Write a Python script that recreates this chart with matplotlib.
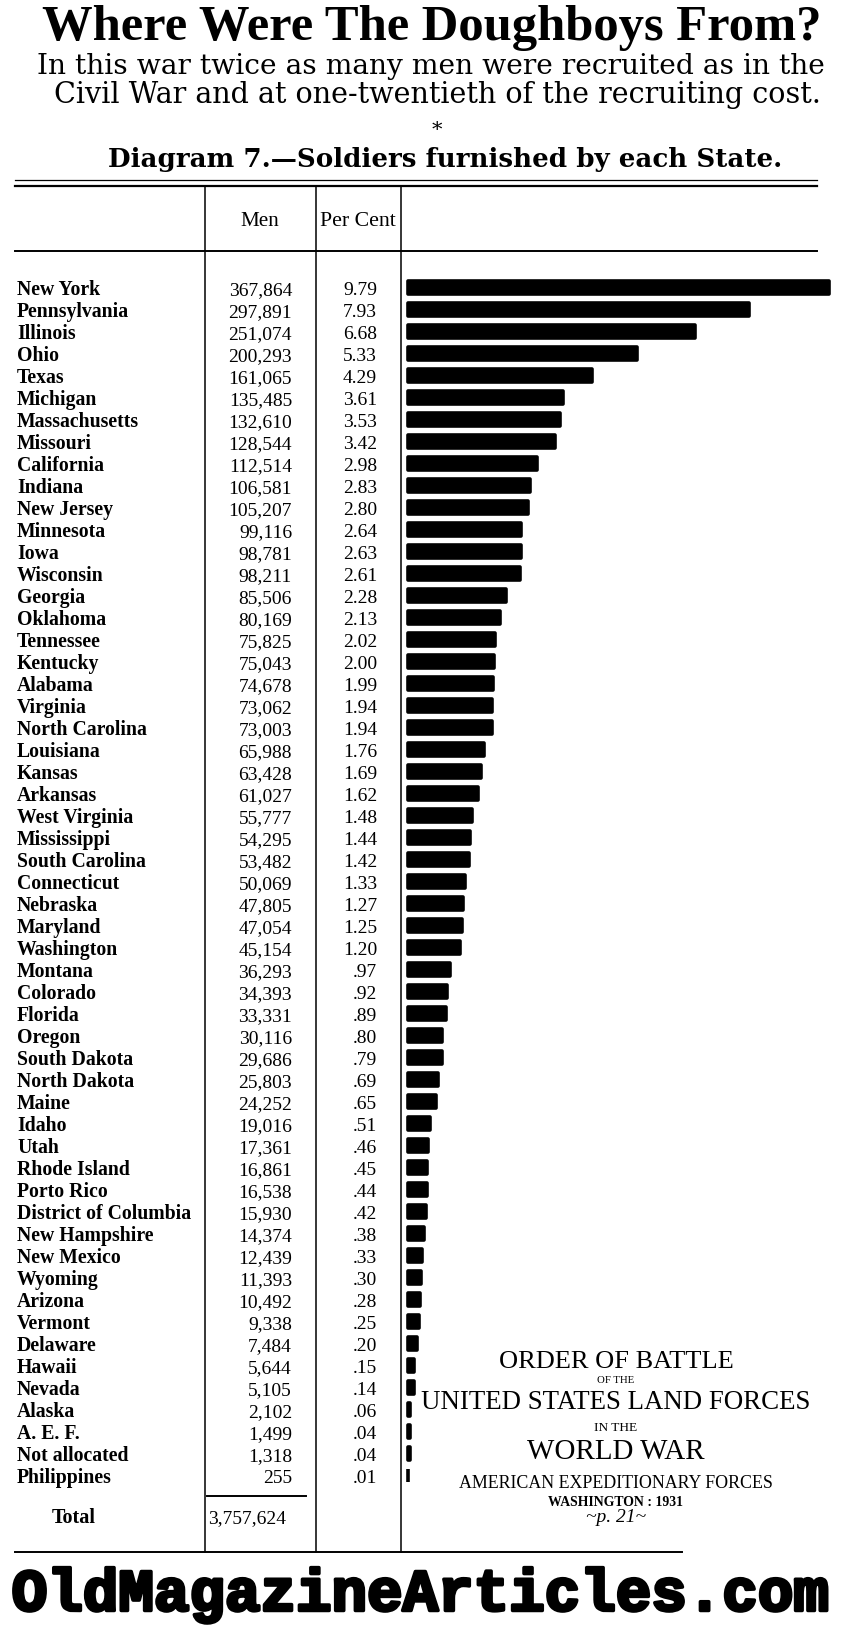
import matplotlib
matplotlib.use("Agg")
import matplotlib.pyplot as plt
import matplotlib.patheffects as pe
from matplotlib.transforms import blended_transform_factory

states = ["New York", "Pennsylvania", "Illinois", "Ohio", "Texas", "Michigan",
          "Massachusetts", "Missouri", "California", "Indiana", "New Jersey",
          "Minnesota", "Iowa", "Wisconsin", "Georgia", "Oklahoma", "Tennessee",
          "Kentucky", "Alabama", "Virginia", "North Carolina", "Louisiana",
          "Kansas", "Arkansas", "West Virginia", "Mississippi", "South Carolina",
          "Connecticut", "Nebraska", "Maryland", "Washington", "Montana",
          "Colorado", "Florida", "Oregon", "South Dakota", "North Dakota",
          "Maine", "Idaho", "Utah", "Rhode Island", "Porto Rico",
          "District of Columbia", "New Hampshire", "New Mexico", "Wyoming",
          "Arizona", "Vermont", "Delaware", "Hawaii", "Nevada", "Alaska",
          "A. E. F.", "Not allocated", "Philippines"]
men = [367864, 297891, 251074, 200293, 161065, 135485, 132610, 128544,
       112514, 106581, 105207, 99116, 98781, 98211, 85506, 80169, 75825,
       75043, 74678, 73062, 73003, 65988, 63428, 61027, 55777, 54295, 53482,
       50069, 47805, 47054, 45154, 36293, 34393, 33331, 30116, 29686, 25803,
       24252, 19016, 17361, 16861, 16538, 15930, 14374, 12439, 11393, 10492,
       9338, 7484, 5644, 5105, 2102, 1499, 1318, 255]
per_cent = ["9.79", "7.93", "6.68", "5.33", "4.29", "3.61", "3.53", "3.42",
            "2.98", "2.83", "2.80", "2.64", "2.63", "2.61", "2.28", "2.13",
            "2.02", "2.00", "1.99", "1.94", "1.94", "1.76", "1.69", "1.62",
            "1.48", "1.44", "1.42", "1.33", "1.27", "1.25", "1.20", ".97",
            ".92", ".89", ".80", ".79", ".69", ".65", ".51", ".46", ".45",
            ".44", ".42", ".38", ".33", ".30", ".28", ".25", ".20", ".15",
            ".14", ".06", ".04", ".04", ".01"]
total_men = 3757624

W, H = 852, 1633
fig = plt.figure(figsize=(W / 100, H / 100), dpi=100)
fig.patch.set_facecolor("white")

# overlay axes in pixel units for text and rules
ov = fig.add_axes([0, 0, 1, 1])
ov.set_xlim(0, W)
ov.set_ylim(H, 0)
ov.axis("off")

renderer = fig.canvas.get_renderer()


def fit(t, width):
    # scale the font so the text spans the wanted pixel width
    bb = t.get_window_extent(renderer)
    t.set_fontsize(t.get_fontsize() * width / bb.width)
    return t


serif = "DejaVu Serif"
times = "Liberation Serif"

# header texts
fit(ov.text(432, 28, "Where Were The Doughboys From?", ha="center", va="center",
            family=times, weight="bold", size=36), 780)
fit(ov.text(431, 66, "In this war twice as many men were recruited as in the",
            ha="center", va="center", family=serif, size=18), 790)
fit(ov.text(437, 95, "Civil War and at one-twentieth of the recruiting cost.",
            ha="center", va="center", family=serif, size=18), 770)
ov.text(437, 136, "*", ha="center", va="baseline", family=serif, size=15)
fit(ov.text(445, 160, "Diagram 7.\u2014Soldiers furnished by each State.",
            ha="center", va="center", family=serif, weight="bold", size=16), 673)

# table rules
x_left, x_right = 15, 817
y_bottom = 1553
ov.plot([x_left, x_right], [181, 181], color="black", lw=0.9)
ov.plot([x_left, x_right], [187, 187], color="black", lw=1.6)
ov.plot([x_left, x_right], [252, 252], color="black", lw=1.4)
for cx in [205, 316, 401]:
    ov.plot([cx, cx], [187, y_bottom], color="black", lw=1.1)
ov.plot([x_left, 682], [y_bottom, y_bottom], color="black", lw=1.4)

fit(ov.text(260, 222, "Men", ha="center", va="center", family=times,
            size=14), 39)
fit(ov.text(358, 222, "Per Cent", ha="center", va="center", family=times,
            size=14), 76)

# bar axes, rows aligned to the table
row0, step = 288.5, 22.0
n = len(states)
top_px = row0 - step / 2
bot_px = row0 + (n - 0.5) * step
bar_left, bar_right = 408, 829
ax = fig.add_axes([bar_left / W, 1 - bot_px / H, (bar_right - bar_left) / W,
                   (bot_px - top_px) / H])
ax.barh(range(n), men, height=0.62, color="black", edgecolor="black",
        linewidth=2.6, joinstyle="round", clip_on=False)
ax.set_xlim(0, max(men))
ax.set_ylim(n - 0.5, -0.5)
ax.axis("off")

tr = blended_transform_factory(ov.transData, ax.transData)
for i in range(n):
    ov.text(17, i + 0.29, states[i], transform=tr, ha="left", va="baseline",
            family=times, weight="bold", size=14.2)
    ov.text(292, i + 0.29, f"{men[i]:,}", transform=tr, ha="right",
            va="baseline", family=times, size=14)
    ov.text(377, i + 0.29, per_cent[i], transform=tr, ha="right",
            va="baseline", family=times, size=14)

# total row
ov.plot([207, 306], [1497, 1497], color="black", lw=1.4)
ov.text(74, 1523, "Total", ha="center", va="baseline", family=times,
        weight="bold", size=14.5)
ov.text(208, 1523, f"{total_men:,}", ha="left", va="baseline", family=times,
        size=14)

# source block
cx = 616
src = [("ORDER OF BATTLE", 1362, 233, "normal", "normal"),
       ("OF THE", 1381, 37, "normal", "normal"),
       ("UNITED STATES LAND FORCES", 1403, 387, "normal", "normal"),
       ("IN THE", 1428, 43, "normal", "normal"),
       ("WORLD WAR", 1452, 177, "normal", "normal"),
       ("AMERICAN EXPEDITIONARY FORCES", 1484, 313, "normal", "normal"),
       ("WASHINGTON : 1931", 1503, 135, "bold", "normal"),
       ("~p. 21~", 1518, 60, "normal", "italic")]
for txt, y, w, wt, st in src:
    fit(ov.text(cx, y, txt, ha="center", va="center", family=times,
                weight=wt, style=st, size=12), w)

# footer
foot = ov.text(420, 1596, "OldMagazineArticles.com", ha="center", va="center",
               family="Liberation Mono", weight="bold", size=40)
fit(foot, 815)
foot.set_path_effects([pe.withStroke(linewidth=2.5, foreground="black")])

fig.savefig("out.png", dpi=100, facecolor="white")
